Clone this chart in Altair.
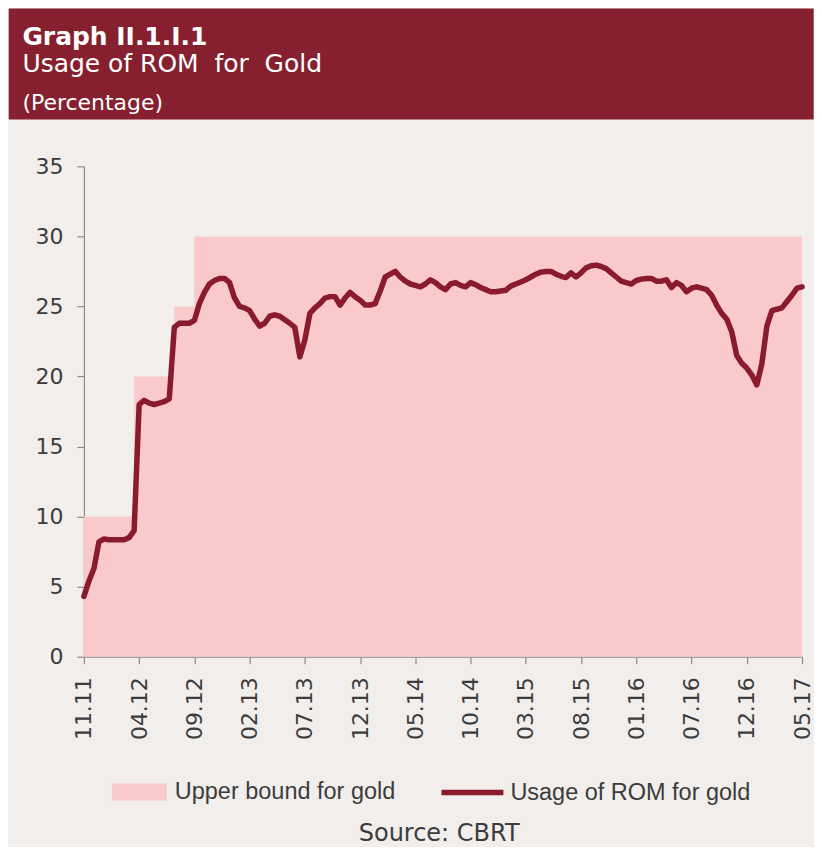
import json
import pandas as pd
import altair as alt

# ---------------- data ----------------
x_labels = ["11.11", "04.12", "09.12", "02.13", "07.13", "12.13", "05.14",
            "10.14", "03.15", "08.15", "01.16", "07.16", "12.16", "05.17"]
label_step = 11  # two-week periods between labelled ticks

usage_name = "Usage of ROM for gold"
usage = [4.3, 5.4, 6.3, 8.2, 8.4, 8.35, 8.35, 8.35, 8.35, 8.5,
         9.0, 18.0, 18.3, 18.1, 18.0, 18.1, 18.2, 18.4, 23.5, 23.8,
         23.8, 23.8, 24.0, 25.2, 26.0, 26.6, 26.85, 27.0, 27.0, 26.7,
         25.6, 25.0, 24.9, 24.7, 24.1, 23.6, 23.8, 24.3, 24.4, 24.3,
         24.05, 23.8, 23.5, 21.4, 22.6, 24.5, 24.9, 25.2, 25.6, 25.7,
         25.7, 25.1, 25.6, 26.0, 25.7, 25.45, 25.1, 25.1, 25.2, 26.1,
         27.1, 27.3, 27.5, 27.1, 26.8, 26.6, 26.5, 26.4, 26.6, 26.9,
         26.7, 26.4, 26.2, 26.6, 26.7, 26.5, 26.4, 26.7, 26.55, 26.35,
         26.2, 26.05, 26.05, 26.1, 26.15, 26.45, 26.6, 26.75, 26.9, 27.1,
         27.3, 27.45, 27.5, 27.5, 27.3, 27.15, 27.06, 27.4, 27.1, 27.4,
         27.75, 27.9, 27.95, 27.85, 27.7, 27.4, 27.1, 26.8, 26.7, 26.6,
         26.85, 26.95, 27.0, 27.0, 26.8, 26.8, 26.9, 26.35, 26.7, 26.5,
         26.05, 26.3, 26.4, 26.3, 26.2, 25.8, 25.1, 24.5, 24.1, 23.2,
         21.5, 20.95, 20.6, 20.1, 19.4, 20.9, 23.6, 24.7, 24.8, 24.9,
         25.35, 25.8, 26.3, 26.4]

bound_name = "Upper bound for gold"
bound_period = [0, 10, 18, 22, 143]
bound_value = [10, 20, 25, 30, 30]

y_ticks = [0, 5, 10, 15, 20, 25, 30, 35]

header_lines = ["Graph II.1.I.1", "Usage of ROM\u00a0 for\u00a0 Gold", "(Percentage)"]
source_text = "Source: CBRT"

# ---------------- tables ----------------
n = len(usage)
line_df = pd.DataFrame({"period": list(range(n)), "value": usage, "series": usage_name})
bound_df = pd.DataFrame({"period": bound_period, "value": bound_value, "series": bound_name})

BG = "#F2EEEB"
HEADER = "#86202F"
PINK = "#F9C9CC"
DARK = "#8A1B2D"
AXIS = "#8C8C8C"
TXT = "#3C3C3C"

x_values = [i * label_step for i in range(len(x_labels))]
label_expr = f"{json.dumps(x_labels)}[round(datum.value / {label_step})]"

x_enc = alt.X(
    "period:Q",
    scale=alt.Scale(domain=[0, n - 1], nice=False, zero=False),
    axis=alt.Axis(
        title=None, values=x_values, labelExpr=label_expr, labelAngle=270,
        labelFont="DejaVu Sans", labelFontSize=22, labelColor=TXT,
        labelPadding=13, tickSize=7, tickColor=AXIS, domainColor=AXIS,
        domainWidth=1.2, tickWidth=1.2, grid=False, labelOverlap=False,
    ),
)
y_enc = alt.Y(
    "value:Q",
    scale=alt.Scale(domain=[0, 35], nice=False),
    axis=alt.Axis(
        title=None, values=y_ticks, labelFont="DejaVu Sans", labelFontSize=22,
        labelColor=TXT, labelPadding=14, tickSize=7, tickColor=AXIS,
        domainColor=AXIS, domainWidth=1.2, tickWidth=1.2, grid=False,
    ),
)

area = alt.Chart(bound_df).mark_area(interpolate="step-after", opacity=1).encode(
    x=x_enc,
    y=y_enc,
    fill=alt.Fill(
        "series:N",
        scale=alt.Scale(domain=[bound_name], range=[PINK]),
        legend=alt.Legend(
            title=None, orient="none", legendX=28, legendY=599,
            symbolType="M-1,-0.31L1,-0.31L1,0.31L-1,0.31Z", symbolSize=3025,
            symbolStrokeWidth=0, symbolOpacity=1,
            labelFont="Liberation Sans", labelFontSize=23.5, labelColor=TXT,
            labelOffset=8, labelLimit=500,
        ),
    ),
)

line = alt.Chart(line_df).mark_line(strokeWidth=5.5, strokeJoin="round", strokeCap="round").encode(
    x="period:Q",
    y="value:Q",
    stroke=alt.Stroke(
        "series:N",
        scale=alt.Scale(domain=[usage_name], range=[DARK]),
        legend=alt.Legend(
            title=None, orient="none", legendX=355, legendY=593,
            symbolType="stroke", symbolSize=3844, symbolStrokeWidth=5.5,
            labelFont="Liberation Sans", labelFontSize=23.5, labelColor=TXT,
            labelOffset=4, labelLimit=500,
        ),
    ),
)

one = pd.DataFrame({"k": [0]})
header_rect = alt.Chart(one).mark_rect(color=HEADER).encode(
    x=alt.value(-75.3), x2=alt.value(730.7), y=alt.value(-158), y2=alt.value(-47)
)

def header_text(txt, y, size, weight):
    return alt.Chart(pd.DataFrame({"t": [txt]})).mark_text(
        align="left", baseline="alphabetic", color="#FFFFFF",
        font="DejaVu Sans", fontSize=size, fontWeight=weight,
    ).encode(x=alt.value(-61.6), y=alt.value(y), text="t:N")

t1 = header_text(header_lines[0], -121, 25, "bold")
t2 = header_text(header_lines[1], -94, 25, "normal")
t3 = header_text(header_lines[2], -56, 22, "normal")

source = alt.Chart(pd.DataFrame({"t": [source_text]})).mark_text(
    align="center", baseline="alphabetic", color=TXT,
    font="DejaVu Sans", fontSize=24,
).encode(x=alt.value(355.7), y=alt.value(676), text="t:N")

chart = alt.layer(header_rect, t1, t2, t3, area, line, source).properties(
    width=719, height=491, background=BG, padding=0
).configure_view(strokeWidth=0)

chart.save("out.html", embed_options={"renderer": "svg", "actions": False})
